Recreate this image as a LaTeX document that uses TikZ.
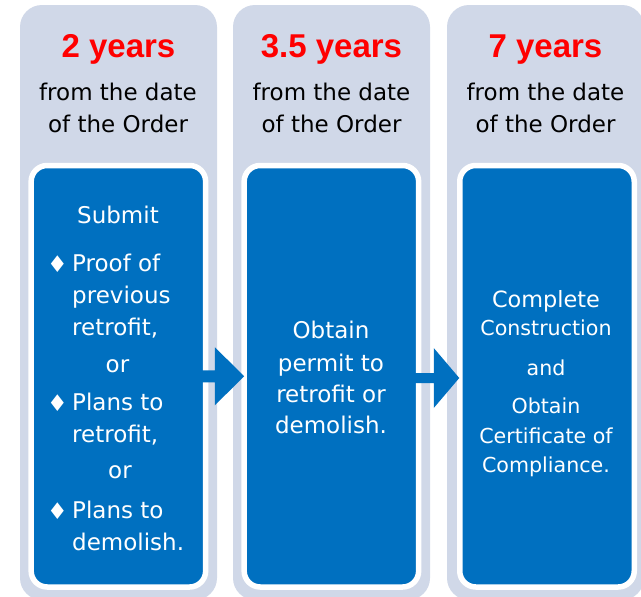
\documentclass[tikz,border=0pt]{standalone}
\usepackage{fontspec}
\setmainfont{DejaVu Sans}
\newfontfamily\titlefont{Liberation Sans}
\usetikzlibrary{calc}
\definecolor{colgray}{RGB}{208,216,232}
\definecolor{boxblue}{RGB}{0,112,192}
\definecolor{titlered}{RGB}{255,0,0}
\begin{document}
\begin{tikzpicture}[x=1pt,y=-1pt,
 graycol/.style={fill=colgray, rounded corners=22pt, minimum width=197pt, minimum height=595pt, inner sep=0pt},
 bluebox/.style={fill=boxblue, draw=white, line width=5.5pt, rounded corners=16pt, minimum width=174.5pt, minimum height=421.5pt, inner sep=0pt},
 titletext/.style={anchor=base, inner sep=0pt, text=titlered, font=\titlefont\bfseries\fontsize{33}{33}\selectfont},
 headtext/.style={anchor=base, inner sep=0pt, text=black, font=\fontsize{23}{23}\selectfont},
 bodytext/.style={anchor=base, inner sep=0pt, text=white, font=\fontsize{23}{23}\selectfont},
 bodyleft/.style={bodytext, anchor=base west},
 bigtext/.style={bodytext, font=\fontsize{22.4}{22.4}\selectfont},
 smalltext/.style={bodytext, font=\fontsize{20.6}{20.6}\selectfont},
 bulletmark/.style={anchor=center, inner sep=0pt, text=white, font=\fontsize{23}{23}\selectfont},
 blockarrow/.style={fill=boxblue, draw=none}
]
\useasboundingbox (0,0) rectangle (641,597);
\fill[white] (0,0) rectangle (641,597);
% columns
\node[graycol] (g1) at (118.5,302.5) {};
\node[graycol] (g2) at (331.5,302.5) {};
\node[graycol] (g3) at (545.5,302.5) {};
% blue boxes
\node[bluebox] (b1) at (118.4,376.25) {};
\node[bluebox] (b2) at (331.4,376.25) {};
\node[bluebox] (b3) at (547,376.25) {};
% arrows
\fill[blockarrow] ($(b1.east)+(-11,-6)$) -- ($(b1.east)+(6.5,-6)$) -- ($(b1.east)+(6.5,-29)$)
  -- ($(b2.west)+(2.75,0)$) -- ($(b1.east)+(6.5,29)$) -- ($(b1.east)+(6.5,6)$)
  -- ($(b1.east)+(-11,6)$) -- cycle;
\fill[blockarrow] ($(b2.east)+(-11,-3.25)$) -- ($(b2.east)+(12.35,-3.25)$) -- ($(b2.east)+(12.35,-28.25)$)
  -- ($(b3.west)+(2.25,1.75)$) -- ($(b2.east)+(12.35,31.75)$) -- ($(b2.east)+(12.35,6.75)$)
  -- ($(b2.east)+(-11,6.75)$) -- cycle;
% titles
\node[titletext] (t1) at (118.5,57) {2 years};
\node[titletext] (t2) at (331.5,57) {3.5 years};
\node[titletext] (t3) at (545.5,57) {7 years};
% headers
\node[headtext] (h1a) at (118,100) {from the date};
\node[headtext] (h1b) at (118,132) {of the Order};
\node[headtext] (h2a) at (331.5,100) {from the date};
\node[headtext] (h2b) at (331.5,132) {of the Order};
\node[headtext] (h3a) at (545.5,100) {from the date};
\node[headtext] (h3b) at (545.5,132) {of the Order};
% column 1 body
\node[bodytext] (s1) at (118,223) {Submit};
\node[bulletmark] (d1) at (57.5,264.5) {♦};
\node[bodyleft] (l1) at (72,271) {Proof of};
\node[bodyleft] (l2) at (72,303) {previous};
\node[bodyleft] (l3) at (72,335) {retrofit,};
\node[bodytext] (o1) at (117.5,372) {or};
\node[bulletmark] (d2) at (57.5,403.5) {♦};
\node[bodyleft] (l4) at (72,410) {Plans to};
\node[bodyleft] (l5) at (72,442) {retrofit,};
\node[bodytext] (o2) at (120,478) {or};
\node[bulletmark] (d3) at (57.5,511.5) {♦};
\node[bodyleft] (l6) at (72,518) {Plans to};
\node[bodyleft] (l7) at (72,550) {demolish.};
% column 2 body
\node[bodytext] (m1) at (331,338) {Obtain};
\node[bodytext] (m2) at (331,371) {permit to};
\node[bodytext] (m3) at (331,402) {retrofit or};
\node[bodytext] (m4) at (331,433) {demolish.};
% column 3 body
\node[bigtext] (r1) at (546,307) {Complete};
\node[smalltext] (r2) at (546,335) {Construction};
\node[smalltext] (r3) at (546,375) {and};
\node[smalltext] (r4) at (546,413) {Obtain};
\node[smalltext] (r5) at (546,443) {Certificate of};
\node[smalltext] (r6) at (546,472) {Compliance.};
\end{tikzpicture}
\end{document}
